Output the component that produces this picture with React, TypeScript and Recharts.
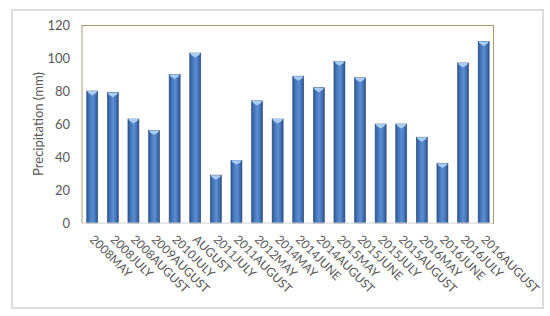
import { BarChart, Bar, XAxis, YAxis } from 'recharts';

const categories = [
  '2008MAY', '2008JULY', '2008AUGUST', '2009AUGUST', '2010JULY', 'AUGUST',
  '2011JULY', '2011AUGUST', '2012MAY', '2014MAY', '2014JUNE', '2014AUGUST',
  '2015MAY', '2015JUNE', '2015JULY', '2015AUGUST', '2016MAY', '2016JUNE',
  '2016JULY', '2016AUGUST',
];

const precipitation = [80, 79, 63, 56, 90, 103, 29, 38, 74, 63, 89, 82, 98, 88, 60, 60, 52, 36, 97, 110];

const yTicks = [0, 20, 40, 60, 80, 100, 120];

const data = categories.map((name, i) => ({ name, value: precipitation[i] }));

const TEXT = '#595959';
const FONT = 'Lato, "Open Sans", sans-serif';
const FRAME = '#a39b6e';

// cylinder-ish bar with a light cap, like the office 3D column style
const PillarBar = (props: any) => {
  const { x, y, width, height } = props;
  if (!height || height <= 0) return null;
  const cx = x + width / 2;
  return (
    <g>
      <rect x={x} y={y} width={width} height={height} fill="url(#barGrad)" stroke="#2b4f80" strokeWidth={0.6} />
      <polygon
        points={`${x + 0.5},${y} ${x + width - 0.5},${y} ${x + width - 1.5},${y + 2} ${cx},${y + 4.5} ${x + 1.5},${y + 2}`}
        fill="#a9cdf2"
      />
    </g>
  );
};

const XTick = (props: any) => {
  const { x, y, payload } = props;
  return (
    <text
      x={x}
      y={y}
      transform={`rotate(45 ${x} ${y})`}
      textAnchor="start"
      dominantBaseline="central"
      fill={TEXT}
      fontSize={12}
      fontFamily={FONT}
    >
      {payload.value}
    </text>
  );
};

export default function App() {
  return (
    <div style={{ position: 'absolute', left: 0, top: 0, width: 550, height: 316, background: '#fff' }}>
      <div
        style={{
          position: 'absolute', left: 11, top: 9, width: 529, height: 296,
          border: '2px solid #dcdcdc',
        }}
      />
      <div style={{ position: 'absolute', left: 0, top: 0 }}>
        <BarChart
          width={550}
          height={316}
          data={data}
          margin={{ top: 25, right: 56, left: 22, bottom: 0 }}
          barCategoryGap="23%"
        >
          <defs>
            <linearGradient id="barGrad" x1="0" y1="0" x2="1" y2="0">
              <stop offset="0%" stopColor="#2c5692" />
              <stop offset="25%" stopColor="#4677ba" />
              <stop offset="55%" stopColor="#5a8ed2" />
              <stop offset="80%" stopColor="#4471b3" />
              <stop offset="100%" stopColor="#2a5088" />
            </linearGradient>
          </defs>
          <XAxis
            dataKey="name"
            interval={0}
            height={93}
            tick={<XTick />}
            tickLine={false}
            tickSize={0}
            tickMargin={14}
            axisLine={{ stroke: '#d0d0d0' }}
          />
          <YAxis
            domain={[0, 120]}
            ticks={yTicks}
            width={60}
            tickLine={false}
            tickSize={0}
            tickMargin={12}
            axisLine={{ stroke: FRAME }}
            tick={{ fill: TEXT, fontSize: 13, fontFamily: FONT }}
            label={{
              content: () => (
                <text
                  x={38}
                  y={124}
                  transform="rotate(-90 38 124)"
                  textAnchor="middle"
                  dominantBaseline="central"
                  fill={TEXT}
                  fontSize={13}
                  fontFamily={FONT}
                >
                  Precipitation (mm)
                </text>
              ),
            }}
          />
          <Bar dataKey="value" shape={<PillarBar />} isAnimationActive={false} />
        </BarChart>
      </div>
      {/* plot frame: top and right edges in the same olive as the value axis */}
      <div
        style={{
          position: 'absolute', left: 82, top: 25, width: 411, height: 198,
          borderTop: `1px solid ${FRAME}`, borderRight: `1px solid ${FRAME}`,
          pointerEvents: 'none',
        }}
      />
    </div>
  );
}
